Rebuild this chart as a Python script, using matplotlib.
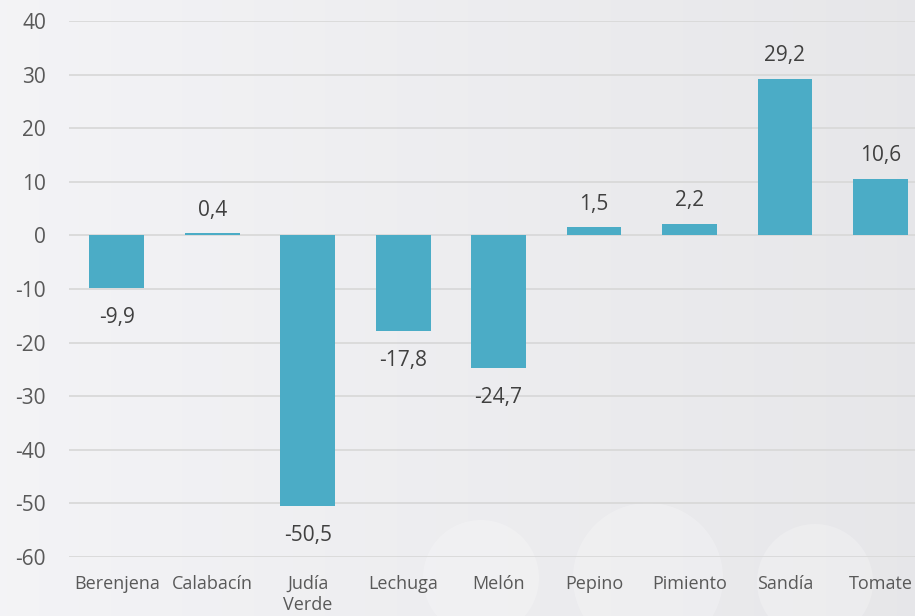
import matplotlib
matplotlib.use("Agg")
from matplotlib import pyplot as plt
from matplotlib.patches import Circle
import numpy as np

categories = ["Berenjena", "Calabacín", "Judía\nVerde", "Lechuga", "Melón",
              "Pepino", "Pimiento", "Sandía", "Tomate"]
values = [-9.9, 0.4, -50.5, -17.8, -24.7, 1.5, 2.2, 29.2, 10.6]
yticks = [40, 30, 20, 10, 0, -10, -20, -30, -40, -50, -60]

plt.rcParams['font.family'] = ['Open Sans', 'DejaVu Sans']
txt_color = "#595959"
bar_color = "#4BACC6"

fig = plt.figure(figsize=(9.15, 6.16), dpi=100)

# background gradient + faint circles (pixel coordinates)
bg = fig.add_axes([0, 0, 1, 1], zorder=-10)
grad = np.linspace(0, 1, 256)
img = np.zeros((2, 256, 3))
for i, c in enumerate([0.955, 0.955, 0.965]):
    img[:, :, i] = c - 0.05 * grad
bg.imshow(img, aspect="auto", extent=[0, 915, 616, 0])
for cx, cy, r in [(481, 578, 58), (648, 578, 75), (815, 582, 58)]:
    bg.add_patch(Circle((cx, cy), r, color="white", alpha=0.22, lw=0))
bg.set_xlim(0, 915)
bg.set_ylim(616, 0)
bg.axis("off")

ax = fig.add_axes([0.0754, 0.0958, 0.939, 0.870])
ax.patch.set_alpha(0)
x = np.arange(len(categories))
ax.bar(x, values, width=0.575, color=bar_color, zorder=3)

for xi, v in zip(x, values):
    lbl = f"{v:.1f}".replace(".", ",")
    if v >= 0:
        ax.text(xi, v + 4.3, lbl, ha="center", va="center", fontsize=15, color="#404040")
    else:
        ax.text(xi, v - 5.5, lbl, ha="center", va="center", fontsize=15, color="#404040")

ax.set_xlim(-0.5, len(categories) - 0.5)
ax.set_ylim(-60, 40)
ax.set_yticks(yticks)
ax.set_yticklabels([str(t) for t in yticks])
ax.set_xticks(x)
ax.set_xticklabels(categories)
ax.tick_params(axis="both", length=0, colors=txt_color)
ax.tick_params(axis="x", labelsize=13, pad=13)
ax.tick_params(axis="y", labelsize=15, pad=16.5)
ax.grid(axis="y", color="#D9D9D9", lw=1.3, zorder=0)
for s in ax.spines.values():
    s.set_visible(False)

fig.savefig("out.png", dpi=100)
